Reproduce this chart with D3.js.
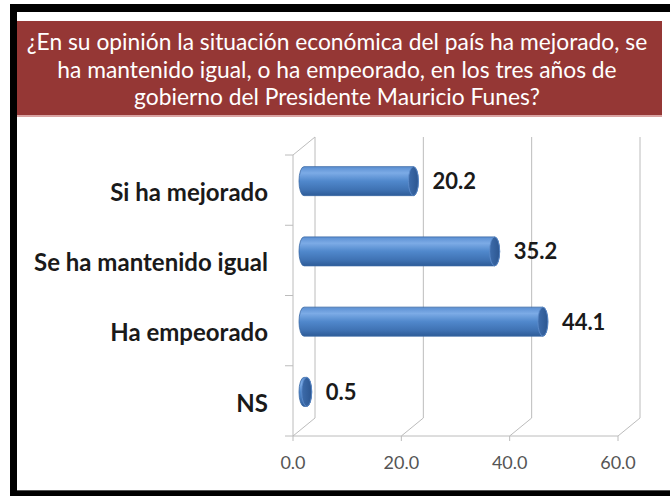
<!DOCTYPE html>
<html>
<head>
<meta charset="utf-8">
<script src="https://cdn.jsdelivr.net/npm/d3@7"></script>
<style>
  body { margin: 0; background: #fff; }
  svg { display: block; }
</style>
</head>
<body>
<div class="wrapper"></div>
<script>
const WIDTH = 670
const HEIGHT = 496

var titleLines = [
  '¿En su opinión la situación económica del país ha mejorado, se',
  'ha mantenido igual, o ha empeorado, en los tres años de',
  'gobierno del Presidente Mauricio Funes?'
]
var categories = ['Si ha mejorado', 'Se ha mantenido igual', 'Ha empeorado', 'NS']
var values = [20.2, 35.2, 44.1, 0.5]
var ticks = [0, 20, 40, 60]

// 3d box: front plane + depth offset
var plot = {left: 293, right: 618, top: 155, bottom: 436}
var depth = {dx: 22, dy: -18}

var svg = d3.select(".wrapper")
  .append("svg")
  .attr("width", WIDTH)
  .attr("height", HEIGHT)

var defs = svg.append("defs")
var grad = defs.append("linearGradient")
  .attr("id", "cyl")
  .attr("x1", 0).attr("y1", 0).attr("x2", 0).attr("y2", 1)
grad.selectAll("stop")
  .data([["0%", "#5b8fd2"], ["22%", "#7cabe6"], ["50%", "#5088cc"], ["80%", "#3f72b3"], ["100%", "#2e5c98"]])
  .join("stop")
  .attr("offset", d => d[0])
  .attr("stop-color", d => d[1])

var capGrad = defs.append("linearGradient")
  .attr("id", "cap")
  .attr("x1", 0).attr("y1", 0).attr("x2", 1).attr("y2", 0)
capGrad.selectAll("stop")
  .data([["0%", "#3d6cab"], ["100%", "#2c5690"]])
  .join("stop")
  .attr("offset", d => d[0])
  .attr("stop-color", d => d[1])

// frame
svg.append("rect").attr("x", 10).attr("y", 4).attr("width", WIDTH - 10).attr("height", 8).attr("fill", "#000")
svg.append("rect").attr("x", 10).attr("y", 4).attr("width", 7).attr("height", HEIGHT - 4).attr("fill", "#000")
svg.append("rect").attr("x", 10).attr("y", 491).attr("width", WIDTH - 10).attr("height", 5).attr("fill", "#000")
svg.append("line").attr("x1", 17).attr("x2", WIDTH).attr("y1", 490.5).attr("y2", 490.5)
  .attr("stroke", "#555").attr("stroke-width", 1)

// title box
svg.append("rect").attr("x", 17).attr("y", 115).attr("width", 645).attr("height", 2)
  .attr("fill", "#d9a3a2")
svg.append("rect").attr("x", 17).attr("y", 21).attr("width", 645).attr("height", 94)
  .attr("fill", "#953735")
svg.append("g")
  .selectAll("text")
  .data(titleLines)
  .join("text")
  .attr("x", 337)
  .attr("y", (d, i) => 50 + i * 27.5)
  .attr("text-anchor", "middle")
  .attr("fill", "#fff")
  .style("font-family", "Lato")
  .style("font-size", "22.8px")
  .text(d => d)

var x = d3.scaleLinear().domain([0, 60]).range([plot.left, plot.right])
var y = d3.scaleBand().domain(categories).range([plot.top, plot.bottom])
var gridColor = "#bcbcbc"

var grid = svg.append("g")
  .attr("stroke", gridColor)
  .attr("stroke-width", 1)
  .attr("fill", "none")

// back wall gridlines
grid.selectAll(".back")
  .data(ticks)
  .join("line")
  .attr("x1", d => x(d) + depth.dx)
  .attr("x2", d => x(d) + depth.dx)
  .attr("y1", plot.top + depth.dy)
  .attr("y2", plot.bottom + depth.dy)

// floor diagonals
grid.selectAll(".floor")
  .data(ticks)
  .join("line")
  .attr("x1", d => x(d))
  .attr("x2", d => x(d) + depth.dx)
  .attr("y1", plot.bottom)
  .attr("y2", plot.bottom + depth.dy)

// floor front line + ticks
grid.append("line")
  .attr("x1", x(0)).attr("x2", x(60))
  .attr("y1", plot.bottom).attr("y2", plot.bottom)
grid.selectAll(".xtick")
  .data(ticks)
  .join("line")
  .attr("x1", d => x(d)).attr("x2", d => x(d))
  .attr("y1", plot.bottom).attr("y2", plot.bottom + 5)

// left wall
grid.append("line")
  .attr("x1", x(0)).attr("x2", x(0))
  .attr("y1", plot.top).attr("y2", plot.bottom)
grid.append("line")
  .attr("x1", x(0)).attr("x2", x(0) + depth.dx)
  .attr("y1", plot.top).attr("y2", plot.top + depth.dy)
grid.selectAll(".ytick")
  .data(categories.concat(["end"]))
  .join("line")
  .attr("x1", x(0) - 8).attr("x2", x(0))
  .attr("y1", (d, i) => plot.top + i * y.step())
  .attr("y2", (d, i) => plot.top + i * y.step())

// tick labels
svg.append("g")
  .selectAll("text")
  .data(ticks)
  .join("text")
  .attr("x", d => x(d))
  .attr("y", plot.bottom + 33)
  .attr("text-anchor", "middle")
  .attr("fill", "#555")
  .style("font-family", "Lato")
  .style("font-size", "18px")
  .text(d => d3.format(".1f")(d))

// category labels
svg.append("g")
  .selectAll("text")
  .data(categories)
  .join("text")
  .attr("x", 268)
  .attr("y", d => y(d) + y.bandwidth() / 2 + 2)
  .attr("dy", "0.36em")
  .attr("text-anchor", "end")
  .attr("fill", "#1a1a1a")
  .style("font-family", "Lato")
  .style("font-weight", "bold")
  .style("font-size", "24px")
  .text(d => d)

// cylinders sit half way into the depth
var barH = 29
var rx = 5
var ry = barH / 2
var bars = svg.append("g")
  .selectAll("g")
  .data(categories.map((c, i) => ({cat: c, value: values[i]})))
  .join("g")
  .attr("transform", d => `translate(${depth.dx / 2},${y(d.cat) + y.bandwidth() / 2 + depth.dy / 2})`)

bars.append("path")
  .attr("d", function(d) {
    var x0 = x(0), x1 = x(d.value)
    return `M${x0},${-ry} L${x1},${-ry} A${rx},${ry} 0 0 1 ${x1},${ry} L${x0},${ry} A${rx},${ry} 0 0 1 ${x0},${-ry} Z`
  })
  .attr("fill", "url(#cyl)")
  .attr("stroke", "#3a68a4")
  .attr("stroke-width", 0.8)

bars.append("ellipse")
  .attr("cx", d => x(d.value))
  .attr("cy", 0)
  .attr("rx", rx)
  .attr("ry", ry)
  .attr("fill", "url(#cap)")
  .attr("stroke", "#5e8dcc")
  .attr("stroke-width", 0.8)

bars.append("text")
  .attr("x", d => x(d.value) + rx + 14)
  .attr("y", 0)
  .attr("dy", "0.36em")
  .attr("fill", "#1a1a1a")
  .style("font-family", "Lato")
  .style("font-weight", "bold")
  .style("font-size", "22px")
  .text(d => d3.format(".1f")(d.value))
</script>
</body>
</html>
